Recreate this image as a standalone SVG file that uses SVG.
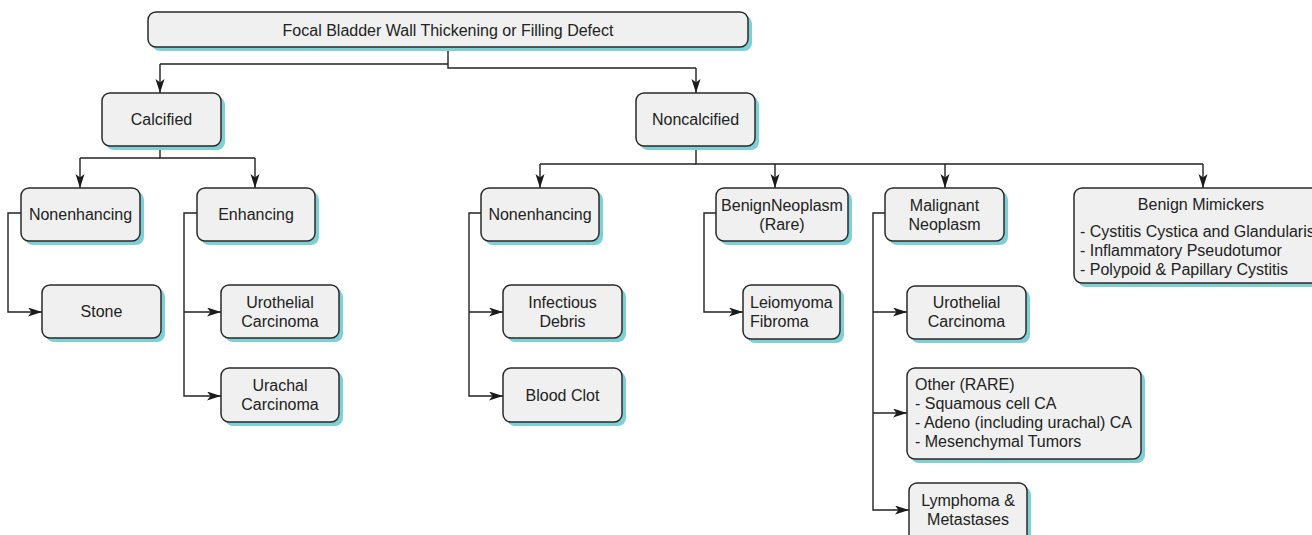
<svg xmlns="http://www.w3.org/2000/svg" width="1312" height="535" viewBox="0 0 1312 535">
<defs>
<style>
.sh{fill:#7fcfd6;}
.bx{fill:#eff0ef;stroke:#2a2a2a;stroke-width:1.5;}
.t{font-family:"Liberation Sans",Arial,Helvetica,sans-serif;font-size:16px;fill:#222;}
.c{text-anchor:middle;}
.ln{fill:none;stroke:#222;stroke-width:1.4;}
.ar{marker-end:url(#ah);}
</style>
<marker id="ah" markerWidth="15" markerHeight="10" refX="14" refY="4.5" orient="auto" markerUnits="userSpaceOnUse">
<path d="M0,0 L14,4.5 L0,9 L3.5,4.5 Z" fill="#1a1a1a"/>
</marker>
</defs>
<rect width="1312" height="535" fill="#ffffff"/>
<g id="connectors">
<path class="ln" d="M448,47 V68 H696"/>
<path class="ln ar" d="M696,68 V93"/>
<path class="ln" d="M448,64 H160"/>
<path class="ln ar" d="M160,64 V93"/>
<path class="ln" d="M160,146 V158 H255"/>
<path class="ln ar" d="M80,158 V188"/>
<path class="ln ar" d="M255,158 V188"/>
<path class="ln" d="M80,158 H160"/>
<path class="ln ar" d="M21,213 H8 V312 H42"/>
<path class="ln ar" d="M197,213 H184 V396 H221"/>
<path class="ln ar" d="M184,312 H221"/>
<path class="ln" d="M696,146 V164 H1203"/>
<path class="ln" d="M540,164 H696"/>
<path class="ln ar" d="M540,164 V188"/>
<path class="ln ar" d="M775,164 V188"/>
<path class="ln ar" d="M945,164 V188"/>
<path class="ln ar" d="M1203,164 V188"/>
<path class="ln ar" d="M481,213 H469 V396 H503"/>
<path class="ln ar" d="M469,312 H503"/>
<path class="ln ar" d="M716,213 H704 V312 H743"/>
<path class="ln ar" d="M885,213 H873 V510 H909"/>
<path class="ln ar" d="M873,312 H907"/>
<path class="ln ar" d="M873,413 H907"/>
</g>
<g id="root">
<rect class="sh" x="152" y="16" width="600" height="35" rx="8"/>
<rect class="bx" x="148" y="12" width="600" height="35" rx="8"/>
<text class="t c" x="448" y="35.5">Focal Bladder Wall Thickening or Filling Defect</text>
</g>
<g id="calcified">
<rect class="sh" x="106" y="97" width="119" height="53" rx="8"/>
<rect class="bx" x="102" y="93" width="119" height="53" rx="8"/>
<text class="t c" x="161.5" y="125">Calcified</text>
</g>
<g id="noncalcified">
<rect class="sh" x="640" y="97" width="119" height="53" rx="8"/>
<rect class="bx" x="636" y="93" width="119" height="53" rx="8"/>
<text class="t c" x="695.5" y="125">Noncalcified</text>
</g>
<g id="nonenhancing-calc">
<rect class="sh" x="25" y="192" width="119" height="53" rx="8"/>
<rect class="bx" x="21" y="188" width="119" height="53" rx="8"/>
<text class="t c" x="80.5" y="220">Nonenhancing</text>
</g>
<g id="enhancing">
<rect class="sh" x="201" y="192" width="118" height="53" rx="8"/>
<rect class="bx" x="197" y="188" width="118" height="53" rx="8"/>
<text class="t c" x="256" y="220">Enhancing</text>
</g>
<g id="stone">
<rect class="sh" x="46" y="289" width="119" height="53" rx="8"/>
<rect class="bx" x="42" y="285" width="119" height="53" rx="8"/>
<text class="t c" x="101.5" y="317">Stone</text>
</g>
<g id="urothelial-1">
<rect class="sh" x="225" y="289" width="118" height="53" rx="8"/>
<rect class="bx" x="221" y="285" width="118" height="53" rx="8"/>
<text class="t c" x="280" y="307.5">Urothelial</text>
<text class="t c" x="280" y="326.5">Carcinoma</text>
</g>
<g id="urachal">
<rect class="sh" x="225" y="372" width="118" height="54" rx="8"/>
<rect class="bx" x="221" y="368" width="118" height="54" rx="8"/>
<text class="t c" x="280" y="391">Urachal</text>
<text class="t c" x="280" y="410">Carcinoma</text>
</g>
<g id="nonenhancing-noncalc">
<rect class="sh" x="485" y="192" width="118" height="53" rx="8"/>
<rect class="bx" x="481" y="188" width="118" height="53" rx="8"/>
<text class="t c" x="540" y="220">Nonenhancing</text>
</g>
<g id="infectious">
<rect class="sh" x="507" y="289" width="119" height="53" rx="8"/>
<rect class="bx" x="503" y="285" width="119" height="53" rx="8"/>
<text class="t c" x="562.5" y="307.5">Infectious</text>
<text class="t c" x="562.5" y="326.5">Debris</text>
</g>
<g id="bloodclot">
<rect class="sh" x="507" y="372" width="119" height="54" rx="8"/>
<rect class="bx" x="503" y="368" width="119" height="54" rx="8"/>
<text class="t c" x="562.5" y="400.5">Blood Clot</text>
</g>
<g id="benign-neoplasm">
<rect class="sh" x="720" y="192" width="132" height="53" rx="8"/>
<rect class="bx" x="716" y="188" width="132" height="53" rx="8"/>
<text class="t c" x="782" y="210.5">BenignNeoplasm</text>
<text class="t c" x="782" y="229.5">(Rare)</text>
</g>
<g id="leiomyoma">
<rect class="sh" x="747" y="289" width="97" height="54" rx="8"/>
<rect class="bx" x="743" y="285" width="97" height="54" rx="8"/>
<text class="t" x="750" y="307.5">Leiomyoma</text>
<text class="t" x="750" y="326.5">Fibroma</text>
</g>
<g id="malignant">
<rect class="sh" x="889" y="192" width="119" height="53" rx="8"/>
<rect class="bx" x="885" y="188" width="119" height="53" rx="8"/>
<text class="t c" x="944.5" y="210.5">Malignant</text>
<text class="t c" x="944.5" y="229.5">Neoplasm</text>
</g>
<g id="urothelial-2">
<rect class="sh" x="911" y="290" width="119" height="53" rx="8"/>
<rect class="bx" x="907" y="286" width="119" height="53" rx="8"/>
<text class="t c" x="966.5" y="308">Urothelial</text>
<text class="t c" x="966.5" y="327">Carcinoma</text>
</g>
<g id="other-rare">
<rect class="sh" x="911" y="372" width="234" height="91" rx="8"/>
<rect class="bx" x="907" y="368" width="234" height="91" rx="8"/>
<text class="t" x="915" y="390">Other (RARE)</text>
<text class="t" x="915" y="409">- Squamous cell CA</text>
<text class="t" x="915" y="428">- Adeno (including urachal) CA</text>
<text class="t" x="915" y="447">- Mesenchymal Tumors</text>
</g>
<g id="lymphoma">
<rect class="sh" x="913" y="487" width="118" height="60" rx="8"/>
<rect class="bx" x="909" y="483" width="118" height="60" rx="8"/>
<text class="t c" x="968" y="505.5">Lymphoma &amp;</text>
<text class="t c" x="968" y="524.5">Metastases</text>
</g>
<g id="benign-mimickers">
<rect class="sh" x="1078" y="192" width="260" height="95" rx="8"/>
<rect class="bx" x="1074" y="188" width="260" height="95" rx="8"/>
<text class="t c" x="1201" y="210">Benign Mimickers</text>
<text class="t" x="1080" y="236.5">- Cystitis Cystica and Glandularis</text>
<text class="t" x="1080" y="255.5">- Inflammatory Pseudotumor</text>
<text class="t" x="1080" y="274.5">- Polypoid &amp; Papillary Cystitis</text>
</g>
</svg>
